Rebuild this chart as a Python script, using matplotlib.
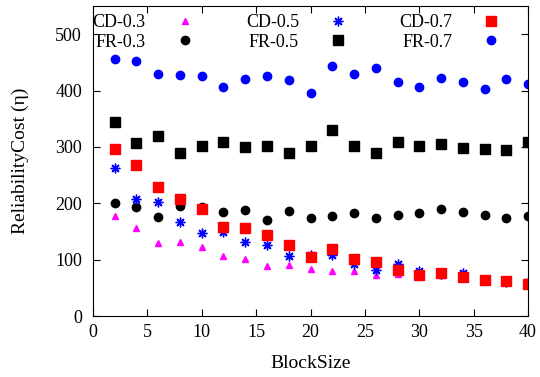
import matplotlib.pyplot as plt

plt.rcParams['font.family'] = ['Liberation Serif', 'DejaVu Serif']

block_size = [2, 4, 6, 8, 10, 12, 14, 16, 18, 20, 22, 24, 26, 28, 30, 32, 34, 36, 38, 40]

cd_03 = [178, 157, 129, 131, 123, 106, 102, 89, 90, 83, 79, 80, 73, 75, 72, 73, 70, 63, 60, 57]
cd_05 = [262, 208, 202, 167, 147, 149, 131, 126, 107, 109, 109, 93, 82, 92, 80, 74, 76, 64, 61, 61]
cd_07 = [297, 268, 229, 208, 190, 158, 157, 144, 126, 105, 118, 102, 95, 82, 73, 76, 70, 64, 62, 57]
fr_03 = [200, 193, 176, 195, 194, 184, 188, 171, 187, 173, 177, 182, 173, 180, 183, 190, 184, 180, 174, 178]
fr_05 = [344, 307, 320, 290, 302, 309, 300, 302, 290, 302, 330, 302, 290, 309, 302, 305, 298, 297, 295, 309]
fr_07 = [456, 452, 430, 428, 426, 407, 420, 426, 418, 395, 444, 430, 440, 415, 406, 422, 415, 402, 421, 411]

fig = plt.figure(figsize=(5.4, 3.77), dpi=100)
ax = fig.add_axes([0.1722, 0.1618, 0.8056, 0.8223])

ax.plot(block_size, cd_03, linestyle='none', marker='^', color='#ff00ff', markersize=5, label='CD-0.3')
ax.plot(block_size, fr_03, linestyle='none', marker='o', color='black', markersize=6, label='FR-0.3')
ax.plot(block_size, cd_05, linestyle='none', marker=(8, 2, 0), color='blue', markersize=7,
        markeredgewidth=1, label='CD-0.5')
ax.plot(block_size, fr_05, linestyle='none', marker='s', color='black', markersize=7, label='FR-0.5')
ax.plot(block_size, cd_07, linestyle='none', marker='s', color='red', markersize=7, label='CD-0.7')
ax.plot(block_size, fr_07, linestyle='none', marker='o', color='blue', markersize=6, label='FR-0.7')

ax.set_xlim(0, 40)
ax.set_ylim(0, 550)
ax.set_xticks(range(0, 41, 5))
ax.set_yticks(range(0, 501, 100))
ax.tick_params(direction='in', top=True, right=True, labelsize=13, length=5)
ax.tick_params(axis='y', pad=8)
ax.tick_params(axis='x', pad=6)
ax.set_xlabel('BlockSize', fontsize=14, labelpad=10)
ax.set_ylabel('ReliabilityCost (η)', fontsize=14, labelpad=19)

ax.legend(loc='upper left', bbox_to_anchor=(-0.03, 1.015), ncol=3, frameon=False,
          markerfirst=False, fontsize=13, handlelength=1.0, handletextpad=1.65,
          columnspacing=2.9, labelspacing=0.15, borderpad=0.2)

fig.savefig('out.png')
